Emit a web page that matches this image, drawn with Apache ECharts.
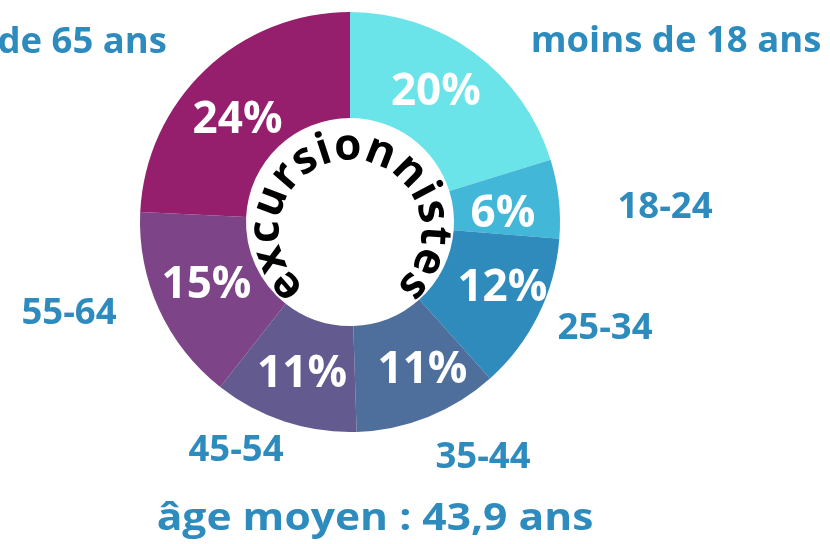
<!DOCTYPE html>
<html>
<head>
<meta charset="utf-8">
<script src="https://cdn.jsdelivr.net/npm/echarts@6/dist/echarts.min.js"></script>
<style>
html,body{margin:0;padding:0;background:#fff;}
#main{width:830px;height:544px;}
</style>
</head>
<body>
<div id="main"></div>
<script>
// ---- data ----
const categories = ['moins de 18 ans', '18-24', '25-34', '35-44', '45-54', '55-64', 'plus de 65 ans'];
const values = [20, 6, 12, 11, 11, 15, 24];
const centerWord = 'excursionnistes';
const subtitle = 'âge moyen : 43,9 ans';

// ---- style ----
const colors = ['#6be4e9', '#43b7d7', '#2e8bbc', '#4e6e9b', '#635a90', '#7d4588', '#951f6c'];
const labelColor = '#2e8bbd';
const FONT = '"Open Sans", "Noto Sans", sans-serif';
// outer category label placement [x, y, align]
const labelPlace = [[676, 42, 'center'], [665, 208, 'center'], [605, 329, 'center'], [483, 458, 'center'],
                    [236, 451, 'center'], [69, 314, 'center'], [167, 43, 'right']];
// small nudges of the percentage labels [dx, dy]
const pctNudge = [[-9, -1], [-6, 10], [9, -5], [13, 0], [2, 0], [2, -3], [-2, 14]];
const CX = 350, CY = 222, R_IN = 104, R_OUT = 210;

const chart = echarts.init(document.getElementById('main'), null, {renderer: 'canvas'});

// curved word around the hole
function curvedText() {
  const fs = 44;
  const ctx = document.createElement('canvas').getContext('2d');
  ctx.font = 'bold ' + fs + 'px ' + FONT;
  const chars = centerWord.split('');
  const w = chars.map(c => ctx.measureText(c).width);
  const centers = [];
  let acc = 0;
  w.forEach(v => { centers.push(acc + v / 2); acc += v; });
  const first = centers[0], last = centers[centers.length - 1];
  const spanDeg = 262; // angular span between first and last letter centres
  const tcx = 350, tcy = 231, r = 84;
  return chars.map((c, i) => {
    const th = (-spanDeg / 2 + (centers[i] - first) / (last - first) * spanDeg) * Math.PI / 180;
    return {
      type: 'text',
      x: tcx + r * Math.sin(th),
      y: tcy - r * Math.cos(th),
      rotation: -th,
      z: 100,
      style: {
        text: c, fill: '#000', font: 'bold ' + fs + 'px ' + FONT,
        textAlign: 'center', textVerticalAlign: 'middle'
      }
    };
  });
}

const data = categories.map((name, i) => ({name: name, value: values[i], itemStyle: {color: colors[i]}}));

const option = {
  animation: false,
  backgroundColor: '#ffffff',
  series: [
    {
      type: 'pie',
      center: [CX, CY],
      radius: [R_IN, R_OUT],
      startAngle: 90,
      clockwise: true,
      silent: true,
      data: data,
      itemStyle: {borderWidth: 0},
      label: {
        show: true, position: 'inside',
        formatter: p => p.value + '%',
        color: '#ffffff', fontFamily: FONT, fontWeight: 'bold', fontSize: 44
      },
      labelLine: {show: false},
      labelLayout: function (p) {
        const n = pctNudge[p.dataIndex];
        return {dx: n[0], dy: n[1]};
      }
    },
    {
      type: 'pie',
      center: [CX, CY],
      radius: [R_IN, R_OUT],
      startAngle: 90,
      clockwise: true,
      silent: true,
      z: 1,
      data: categories.map((name, i) => ({name: name, value: values[i], itemStyle: {color: 'rgba(0,0,0,0)'}})),
      label: {
        show: true, position: 'outside', overflow: 'none',
        formatter: p => p.name,
        color: labelColor, fontFamily: FONT, fontWeight: 'bold', fontSize: 36.5
      },
      labelLine: {show: false},
      labelLayout: function (p) {
        const pl = labelPlace[p.dataIndex];
        return {x: pl[0], y: pl[1], align: pl[2], verticalAlign: 'middle', hideOverlap: false};
      }
    }
  ],
  graphic: curvedText().concat([{
    type: 'text', x: 375, y: 519, scaleX: 1.12, z: 100,
    style: {text: subtitle, fill: labelColor, font: 'bold 38px ' + FONT, textAlign: 'center', textVerticalAlign: 'middle'}
  }])
};
chart.setOption(option);
</script>
</body>
</html>
